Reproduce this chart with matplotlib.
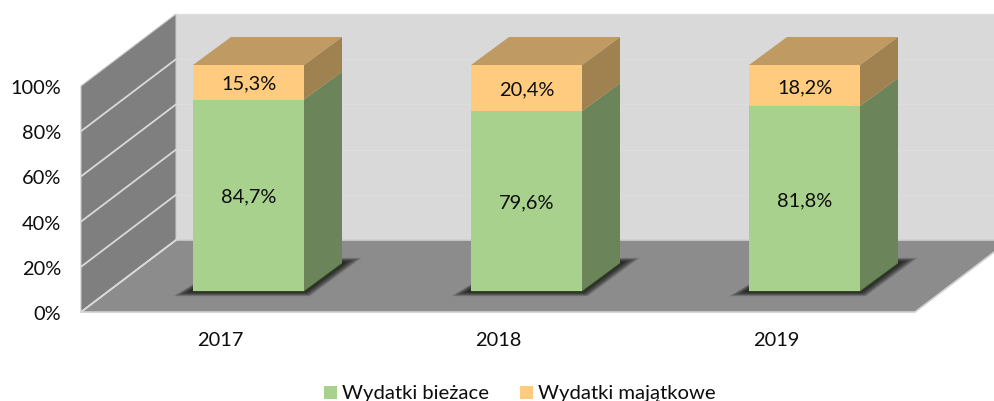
import matplotlib
matplotlib.use("Agg")
import matplotlib.pyplot as plt
from matplotlib.patches import Polygon, Rectangle

years = ["2017", "2018", "2019"]
biezace = [84.7, 79.6, 81.8]
majatkowe = [15.3, 20.4, 18.2]
series_names = ["Wydatki bieżace", "Wydatki majątkowe"]
ticks = [0, 20, 40, 60, 80, 100]

W, H = 995, 401
plt.rcParams['font.family'] = ['Lato', 'DejaVu Sans']
FS = 14.4
TXT = '#0d0d0d'
fig = plt.figure(figsize=(W/100, H/100), dpi=100)
ax = fig.add_axes([0, 0, 1, 1])
ax.set_xlim(0, W); ax.set_ylim(H, 0); ax.axis('off')

# wall geometry
X0, Y0, PLOT_H = 81, 312, 226
WDX, WDY = 95, 72
RIGHT = 915
def wy(v): return Y0 - PLOT_H * v / 100

ax.add_patch(Rectangle((X0+WDX, Y0-WDY-PLOT_H), W+40, PLOT_H, fc='#d9d9d9', ec='#dedede', lw=1, zorder=1))
for t in ticks[1:-1]:
    y = wy(t) - WDY
    ax.plot([X0+WDX, W], [y, y], color='#dddddd', lw=1, zorder=1.5)
ax.add_patch(Polygon([(X0, Y0), (X0+WDX, Y0-WDY), (X0+WDX, wy(100)-WDY), (X0, wy(100))],
                     fc='#7f7f7f', ec='#c8c8c8', lw=0.8, zorder=2))
ax.add_patch(Polygon([(X0, Y0), (RIGHT, Y0), (RIGHT+WDX, Y0-WDY), (X0+WDX, Y0-WDY)],
                     fc='#8c8c8c', ec='#d0d0d0', lw=1.2, zorder=2))
for t in ticks:
    y = wy(t)
    if t not in (0, 100):
        ax.plot([X0, X0+WDX], [y, y-WDY], color='#d9d9d9', lw=1.3, zorder=3)
    ax.text(61, y+2.5, f"{t}%", ha='right', va='center', fontsize=FS, color=TXT, zorder=9)
ax.plot([X0, X0+WDX], [Y0, Y0-WDY], color='#d9d9d9', lw=1.3, zorder=3)

# bars
BAR_Y0, BAR_H = 291, 226
BW, DX, DY = 111, 38, 28
lefts = [193, 471, 749]
def by(v): return BAR_Y0 - BAR_H * v / 100

GREEN, GREEN_S = '#a9d18e', '#6b845a'
OR, OR_S, OR_T = '#ffcc7f', '#a08150', '#bf9b63'
for x, a, b, yr in zip(lefts, biezace, majatkowe, years):
    # soft contact shadow, wider sideways than in depth
    for d in range(20, 0, -1):
        v = d * 0.26
        ax.add_patch(Polygon([(x-d, BAR_Y0+v), (x+BW+d*0.3, BAR_Y0+v),
                              (x+BW+DX+d, BAR_Y0-DY-v), (x+DX+d*0.3, BAR_Y0-DY-v)],
                             fc='#0a0a0a', ec='none', alpha=0.07, zorder=3.5))
    ax.add_patch(Polygon([(x, BAR_Y0), (x+BW, BAR_Y0), (x+BW+DX, BAR_Y0-DY), (x+DX, BAR_Y0-DY)],
                         fc='#2c4a1a', ec='#2c4a1a', lw=1.6, zorder=3.8))
    y1, y2 = by(a), by(a+b)
    ax.add_patch(Rectangle((x, y1), BW, BAR_Y0-y1, fc=GREEN, ec='none', zorder=5))
    ax.add_patch(Polygon([(x+BW, BAR_Y0), (x+BW+DX, BAR_Y0-DY), (x+BW+DX, y1-DY), (x+BW, y1)], fc=GREEN_S, ec='none', zorder=5))
    ax.add_patch(Rectangle((x, y2), BW, y1-y2, fc=OR, ec='none', zorder=5))
    ax.add_patch(Polygon([(x+BW, y1), (x+BW+DX, y1-DY), (x+BW+DX, y2-DY), (x+BW, y2)], fc=OR_S, ec='none', zorder=5))
    ax.add_patch(Polygon([(x, y2), (x+BW, y2), (x+BW+DX, y2-DY), (x+DX, y2-DY)], fc=OR_T, ec='none', zorder=5))
    cx = x + BW/2
    ax.text(cx, (y1+BAR_Y0)/2 + 2, f"{a:.1f}%".replace('.', ','), ha='center', va='center', fontsize=FS, color=TXT, zorder=9)
    ax.text(cx, (y1+y2)/2 + 2, f"{b:.1f}%".replace('.', ','), ha='center', va='center', fontsize=FS, color=TXT, zorder=9)
    ax.text(cx - 28, 341, yr, ha='center', va='center', fontsize=FS, color=TXT, zorder=9)

# legend
for lx, name, col in [(324, series_names[0], GREEN), (520, series_names[1], OR)]:
    ax.add_patch(Rectangle((lx, 386), 13, 13, fc=col, ec='none', zorder=9))
    ax.text(lx+18, 393.5, name, ha='left', va='center', fontsize=14.6, color=TXT, zorder=9)

fig.savefig('out.png', dpi=100)
